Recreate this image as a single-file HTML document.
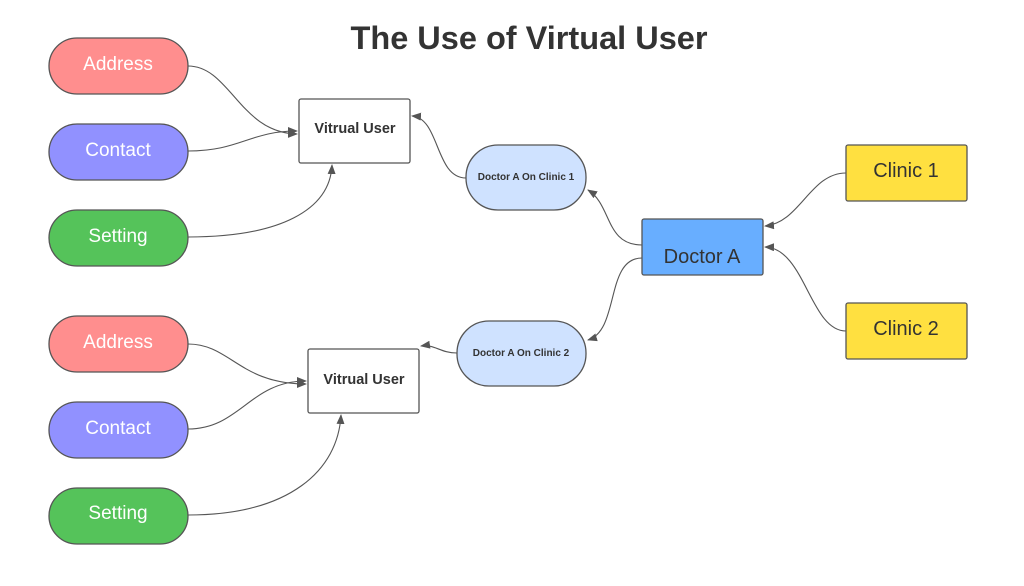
<!DOCTYPE html>
<html><head><meta charset="utf-8"><style>
html,body{margin:0;padding:0;background:#fff;}
svg{display:block;}
text{font-family:"Liberation Sans",sans-serif;}
</style></head><body>
<svg width="1024" height="586" viewBox="0 0 1024 586" xmlns="http://www.w3.org/2000/svg">
<defs><marker id="a" markerWidth="10" markerHeight="8" refX="9" refY="4" orient="auto" markerUnits="userSpaceOnUse"><path d="M0,0 L10,4 L0,8 Z" fill="#555"/></marker></defs>
<text x="529" y="49" text-anchor="middle" font-size="32.5" font-weight="bold" fill="#333">The Use of Virtual User</text>
<g stroke="#555" stroke-width="1.3">
<rect x="49" y="38" width="139" height="56" rx="28" fill="#ff8e8e"/>
<rect x="49" y="124" width="139" height="56" rx="28" fill="#9191ff"/>
<rect x="49" y="210" width="139" height="56" rx="28" fill="#55c35a"/>
<rect x="49" y="316" width="139" height="56" rx="28" fill="#ff8e8e"/>
<rect x="49" y="402" width="139" height="56" rx="28" fill="#9191ff"/>
<rect x="49" y="488" width="139" height="56" rx="28" fill="#55c35a"/>
<rect x="299" y="99" width="111" height="64" rx="2" fill="#fff"/>
<rect x="308" y="349" width="111" height="64" rx="2" fill="#fff"/>
<rect x="466" y="145" width="120" height="65" rx="32" fill="#cfe2ff"/>
<rect x="457" y="321" width="129" height="65" rx="32" fill="#cfe2ff"/>
<rect x="642" y="219" width="121" height="56" rx="2" fill="#68aeff"/>
<rect x="846" y="145" width="121" height="56" rx="2" fill="#ffe040"/>
<rect x="846" y="303" width="121" height="56" rx="2" fill="#ffe040"/>
</g>
<g font-size="19" fill="#fff" text-anchor="middle">
<text x="118" y="70">Address</text><text x="118" y="156">Contact</text><text x="118" y="242">Setting</text>
<text x="118" y="348">Address</text><text x="118" y="434">Contact</text><text x="118" y="519">Setting</text>
</g>
<g font-size="14.5" font-weight="bold" fill="#333" text-anchor="middle">
<text x="355" y="133">Vitrual User</text><text x="364" y="384">Vitrual User</text>
</g>
<g font-size="10" font-weight="bold" fill="#333" text-anchor="middle">
<text x="526" y="180">Doctor A On Clinic 1</text><text x="521" y="356">Doctor A On Clinic 2</text>
</g>
<g font-size="20" fill="#333" text-anchor="middle">
<text x="702" y="263">Doctor A</text><text x="906" y="177">Clinic 1</text><text x="906" y="335">Clinic 2</text>
</g>
<g fill="none" stroke="#555" stroke-width="1.1" marker-end="url(#a)">
<path d="M188,66 C230,66 240,133 297,134"/>
<path d="M188,151 C240,151 250,131 297,131"/>
<path d="M188,237 C280,237 330,210 332,165"/>
<path d="M466,178 C435,178 440,118 412,116"/>
<path d="M642,245 C605,245 612,205 588,190"/>
<path d="M642,258 C605,258 620,330 588,340"/>
<path d="M457,353 C440,353 435,344 421,346"/>
<path d="M846,173 C810,173 800,223 765,226"/>
<path d="M846,331 C810,331 805,248 765,247"/>
<path d="M188,344 C230,344 240,384 306,384"/>
<path d="M188,429 C240,429 250,381 306,381"/>
<path d="M188,515 C290,515 338,470 341,415"/>
</g>
</svg>
</body></html>
